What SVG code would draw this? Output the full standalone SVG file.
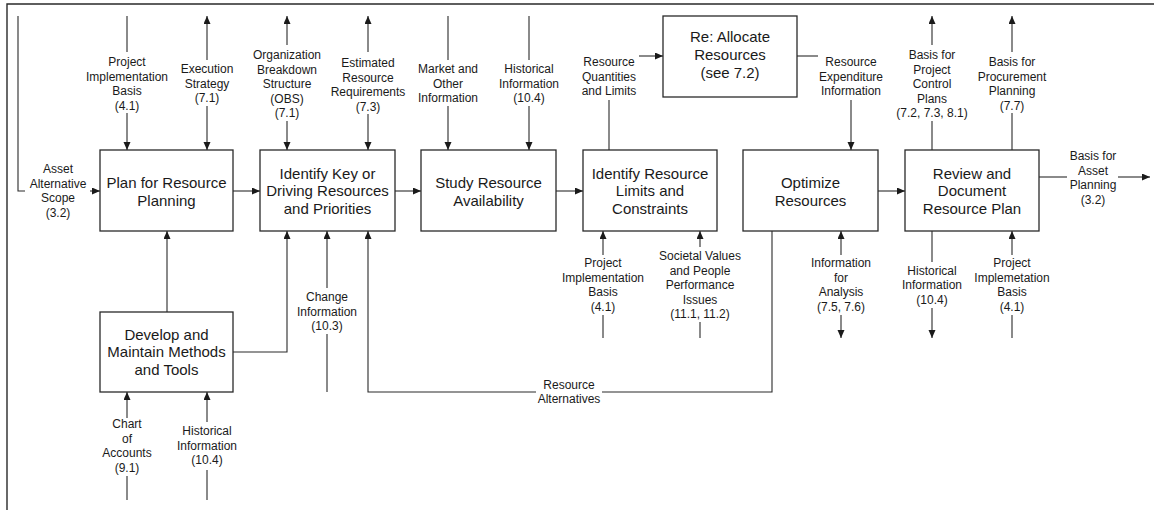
<svg xmlns="http://www.w3.org/2000/svg" width="1154" height="510" viewBox="0 0 1154 510">
  <style>
    .box { fill: #fff; stroke: #2a2a2a; stroke-width: 1.3; }
    .title { font-family: "Liberation Sans", Arial, sans-serif; font-size: 15px; fill: #1a1a1a; text-anchor: middle; }
    .lbl { font-family: "Liberation Sans", Arial, sans-serif; font-size: 12px; fill: #1a1a1a; text-anchor: middle; }
    .ln { fill: none; stroke: #2a2a2a; stroke-width: 1.1; }
    .end { marker-end: url(#arrow); }
    .both { marker-start: url(#arrow); marker-end: url(#arrow); }
  </style>
  <defs>
    <marker id="arrow" markerUnits="userSpaceOnUse" markerWidth="9" markerHeight="8" refX="8" refY="3.5" orient="auto-start-reverse">
      <path d="M0,0 L8,3.5 L0,7 z" fill="#1a1a1a"/>
    </marker>
  </defs>
  <rect width="1154" height="510" fill="#fff"/>

  <!-- page frame -->
  <path d="M7,510 V4 H1154" fill="none" stroke="#2a2a2a" stroke-width="1.4"/>

  <g id="connectors">
    <!-- Asset Alternative Scope -->
    <path class="ln" d="M18,16 V191 H25"/>
    <path class="ln end" d="M90,191 H100"/>
    <!-- top inputs / outputs -->
    <path class="ln" d="M127,16 V52"/>
    <path class="ln end" d="M127,113 V150"/>
    <path class="ln" d="M207,60 V16" marker-end="url(#arrow)"/>
    <path class="ln end" d="M207,106 V150"/>
    <path class="ln" d="M287,45 V16" marker-end="url(#arrow)"/>
    <path class="ln end" d="M287,121 V150"/>
    <path class="ln" d="M368,52 V16" marker-end="url(#arrow)"/>
    <path class="ln end" d="M368,114 V150"/>
    <path class="ln" d="M448,16 V60"/>
    <path class="ln end" d="M448,106 V150"/>
    <path class="ln" d="M529,16 V60"/>
    <path class="ln end" d="M529,106 V150"/>
    <path class="ln" d="M609,150 V100"/>
    <path class="ln end" d="M639,56 H663"/>
    <path class="ln" d="M797,56 H818"/>
    <path class="ln end" d="M851,100 V150"/>
    <path class="ln" d="M932,150 V121"/>
    <path class="ln end" d="M932,45 V16"/>
    <path class="ln" d="M1012,150 V113"/>
    <path class="ln end" d="M1012,52 V16"/>
    <path class="ln" d="M1039,177 H1067"/>
    <path class="ln end" d="M1118,177 H1150"/>
    <!-- process chain -->
    <path class="ln end" d="M233,191 H260"/>
    <path class="ln end" d="M395,191 H421"/>
    <path class="ln end" d="M556,191 H583"/>
    <path class="ln end" d="M878,191 H905"/>
    <!-- methods and tools feed -->
    <path class="ln end" d="M167,312 V231"/>
    <path class="ln end" d="M233,352 H287 V231"/>
    <!-- change information -->
    <path class="ln end" d="M327,288 V231"/>
    <path class="ln" d="M327,334 V392"/>
    <!-- resource alternatives loop -->
    <path class="ln" d="M772,231 V392 H602"/>
    <path class="ln end" d="M536,392 H368 V231"/>
    <!-- bottom inputs / outputs -->
    <path class="ln end" d="M603,255 V231"/>
    <path class="ln" d="M603,315 V338"/>
    <path class="ln end" d="M700,247 V231"/>
    <path class="ln" d="M700,322 V338"/>
    <path class="ln end" d="M841,255 V231"/>
    <path class="ln end" d="M841,315 V338"/>
    <path class="ln" d="M932,231 V262"/>
    <path class="ln end" d="M932,308 V338"/>
    <path class="ln end" d="M1012,255 V231"/>
    <path class="ln" d="M1012,315 V338"/>
    <path class="ln end" d="M127,418 V392"/>
    <path class="ln" d="M127,476 V500"/>
    <path class="ln end" d="M207,422 V392"/>
    <path class="ln" d="M207,470 V500"/>
  </g>

  <g id="labels">
    <text class="lbl" x="58"><tspan x="58" y="173">Asset</tspan><tspan x="58" y="187.5">Alternative</tspan><tspan x="58" y="202">Scope</tspan><tspan x="58" y="216.5">(3.2)</tspan></text>
    <text class="lbl"><tspan x="127" y="66">Project</tspan><tspan x="127" y="80.5">Implementation</tspan><tspan x="127" y="95">Basis</tspan><tspan x="127" y="109.5">(4.1)</tspan></text>
    <text class="lbl"><tspan x="207" y="73">Execution</tspan><tspan x="207" y="87.5">Strategy</tspan><tspan x="207" y="102">(7.1)</tspan></text>
    <text class="lbl"><tspan x="287" y="59">Organization</tspan><tspan x="287" y="73.5">Breakdown</tspan><tspan x="287" y="88">Structure</tspan><tspan x="287" y="102.5">(OBS)</tspan><tspan x="287" y="117">(7.1)</tspan></text>
    <text class="lbl"><tspan x="368" y="67">Estimated</tspan><tspan x="368" y="81.5">Resource</tspan><tspan x="368" y="96">Requirements</tspan><tspan x="368" y="110.5">(7.3)</tspan></text>
    <text class="lbl"><tspan x="448" y="73">Market and</tspan><tspan x="448" y="87.5">Other</tspan><tspan x="448" y="102">Information</tspan></text>
    <text class="lbl"><tspan x="529" y="73">Historical</tspan><tspan x="529" y="87.5">Information</tspan><tspan x="529" y="102">(10.4)</tspan></text>
    <text class="lbl"><tspan x="609" y="66">Resource</tspan><tspan x="609" y="80.5">Quantities</tspan><tspan x="609" y="95">and Limits</tspan></text>
    <text class="lbl"><tspan x="851" y="66">Resource</tspan><tspan x="851" y="80.5">Expenditure</tspan><tspan x="851" y="95">Information</tspan></text>
    <text class="lbl"><tspan x="932" y="59">Basis for</tspan><tspan x="932" y="73.5">Project</tspan><tspan x="932" y="88">Control</tspan><tspan x="932" y="102.5">Plans</tspan><tspan x="932" y="117">(7.2, 7.3, 8.1)</tspan></text>
    <text class="lbl"><tspan x="1012" y="66">Basis for</tspan><tspan x="1012" y="80.5">Procurement</tspan><tspan x="1012" y="95">Planning</tspan><tspan x="1012" y="109.5">(7.7)</tspan></text>
    <text class="lbl"><tspan x="1093" y="160">Basis for</tspan><tspan x="1093" y="174.5">Asset</tspan><tspan x="1093" y="189">Planning</tspan><tspan x="1093" y="203.5">(3.2)</tspan></text>
    <text class="lbl"><tspan x="327" y="301">Change</tspan><tspan x="327" y="315.5">Information</tspan><tspan x="327" y="330">(10.3)</tspan></text>
    <text class="lbl"><tspan x="569" y="389">Resource</tspan><tspan x="569" y="403">Alternatives</tspan></text>
    <text class="lbl"><tspan x="603" y="267">Project</tspan><tspan x="603" y="281.5">Implementation</tspan><tspan x="603" y="296">Basis</tspan><tspan x="603" y="310.5">(4.1)</tspan></text>
    <text class="lbl"><tspan x="700" y="260">Societal Values</tspan><tspan x="700" y="274.5">and People</tspan><tspan x="700" y="289">Performance</tspan><tspan x="700" y="303.5">Issues</tspan><tspan x="700" y="318">(11.1, 11.2)</tspan></text>
    <text class="lbl"><tspan x="841" y="267">Information</tspan><tspan x="841" y="281.5">for</tspan><tspan x="841" y="296">Analysis</tspan><tspan x="841" y="310.5">(7.5, 7.6)</tspan></text>
    <text class="lbl"><tspan x="932" y="274.5">Historical</tspan><tspan x="932" y="289">Information</tspan><tspan x="932" y="303.5">(10.4)</tspan></text>
    <text class="lbl"><tspan x="1012" y="267">Project</tspan><tspan x="1012" y="281.5">Implemetation</tspan><tspan x="1012" y="296">Basis</tspan><tspan x="1012" y="310.5">(4.1)</tspan></text>
    <text class="lbl"><tspan x="127" y="428">Chart</tspan><tspan x="127" y="442.5">of</tspan><tspan x="127" y="457">Accounts</tspan><tspan x="127" y="471.5">(9.1)</tspan></text>
    <text class="lbl"><tspan x="207" y="435">Historical</tspan><tspan x="207" y="449.5">Information</tspan><tspan x="207" y="464">(10.4)</tspan></text>
  </g>

  <g id="plan-resource-planning">
    <rect class="box" x="100" y="150" width="133" height="81"/>
    <text class="title"><tspan x="166.5" y="188">Plan for Resource</tspan><tspan x="166.5" y="206">Planning</tspan></text>
  </g>
  <g id="identify-key-resources">
    <rect class="box" x="260" y="150" width="135" height="81"/>
    <text class="title"><tspan x="327.5" y="178.5">Identify Key or</tspan><tspan x="327.5" y="196">Driving Resources</tspan><tspan x="327.5" y="213.5">and Priorities</tspan></text>
  </g>
  <g id="study-availability">
    <rect class="box" x="421" y="150" width="135" height="81"/>
    <text class="title"><tspan x="488.5" y="188">Study Resource</tspan><tspan x="488.5" y="205.5">Availability</tspan></text>
  </g>
  <g id="identify-limits">
    <rect class="box" x="583" y="150" width="134" height="81"/>
    <text class="title"><tspan x="650" y="178.5">Identify Resource</tspan><tspan x="650" y="196">Limits and</tspan><tspan x="650" y="213.5">Constraints</tspan></text>
  </g>
  <g id="reallocate">
    <rect class="box" x="663" y="16" width="134" height="81"/>
    <text class="title"><tspan x="730" y="42">Re: Allocate</tspan><tspan x="730" y="60">Resources</tspan><tspan x="730" y="77.5">(see 7.2)</tspan></text>
  </g>
  <g id="optimize">
    <rect class="box" x="743" y="150" width="135" height="81"/>
    <text class="title"><tspan x="810.5" y="188">Optimize</tspan><tspan x="810.5" y="205.5">Resources</tspan></text>
  </g>
  <g id="review-document">
    <rect class="box" x="905" y="150" width="134" height="81"/>
    <text class="title"><tspan x="972" y="178.5">Review and</tspan><tspan x="972" y="196">Document</tspan><tspan x="972" y="213.5">Resource Plan</tspan></text>
  </g>
  <g id="methods-tools">
    <rect class="box" x="100" y="312" width="133" height="80"/>
    <text class="title"><tspan x="166.5" y="339.5">Develop and</tspan><tspan x="166.5" y="357">Maintain Methods</tspan><tspan x="166.5" y="374.5">and Tools</tspan></text>
  </g>
</svg>
